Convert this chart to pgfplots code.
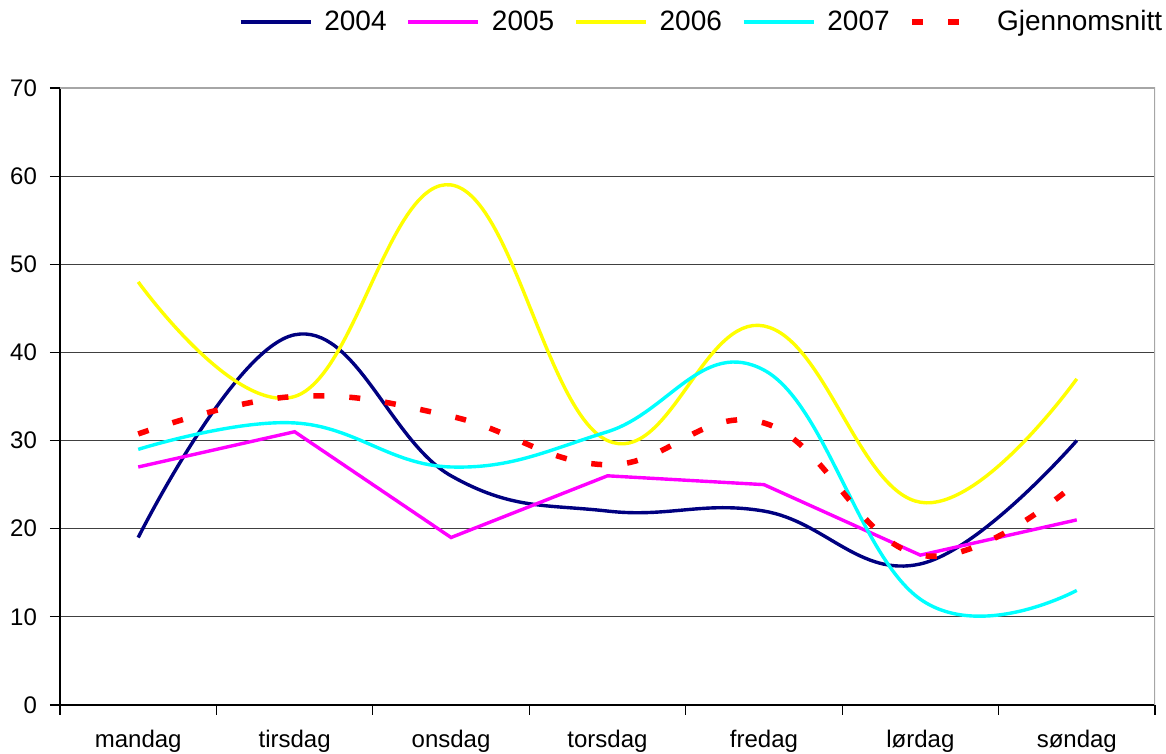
\documentclass[border=0pt]{standalone}
\usepackage{fontspec}
\setmainfont{Liberation Sans}
\usepackage{pgfplots}
\pgfplotsset{compat=1.18}
\definecolor{cA}{RGB}{0,0,128}
\definecolor{cB}{RGB}{255,0,255}
\definecolor{cC}{RGB}{255,255,0}
\definecolor{cD}{RGB}{0,255,255}
\definecolor{cE}{RGB}{255,0,0}
\begin{document}
\begin{tikzpicture}
\begin{axis}[
    name=ax, scale only axis,
    width=547.5pt, height=308.5pt,
    xmin=0.5, xmax=7.5, ymin=0, ymax=70,
    xtick={0.5,1.5,...,7.5}, x tick label as interval,
    xticklabels={mandag,tirsdag,onsdag,torsdag,fredag,lørdag,søndag},
    ytick={0,10,...,70},
    ymajorgrids, grid style={black!75, line width=0.5pt},
    axis x line*=bottom, axis y line*=left,
    axis line style={black, line width=0.6pt, -},
    tick align=outside, major tick length=5pt,
    tick style={black, line width=0.6pt},
    ticklabel style={font=\fontsize{12}{14}\selectfont},
    xticklabel style={yshift=-4pt},
    yticklabel style={xshift=-3pt},
    /pgf/number format/assume math mode=true,
    legend columns=5,
    legend style={at={(1.016,1.107)}, anchor=east, draw=none, fill=none,
        font=\fontsize{14}{16}\selectfont,
        /tikz/every even column/.style={column sep=8pt}},
    legend image code/.code={\draw[#1] (0pt,0pt) -- (35pt,0pt); \path (39pt,0pt);},
    every axis plot/.append style={line width=1.7pt},
]
\addplot[cA, smooth, tension=0.7] coordinates {(1,19) (2,42) (3,26) (4,22) (5,22) (6,16) (7,30)};
\addplot[cB, sharp plot] coordinates {(1,27) (2,31) (3,19) (4,26) (5,25) (6,17) (7,21)};
\addplot[cC, smooth, tension=0.7] coordinates {(1,48) (2,35) (3,59) (4,30) (5,43) (6,23) (7,37)};
\addplot[cD, smooth, tension=0.7] coordinates {(1,29) (2,32) (3,27) (4,31) (5,38) (6,12) (7,13)};
\addplot[cE, smooth, tension=0.7, line width=2.75pt, dash pattern=on 5.5pt off 12.5pt] coordinates {(1,30.75) (2,35) (3,32.75) (4,27.25) (5,32) (6,17) (7,25.25)};
\legend{2004,2005,2006,2007,Gjennomsnitt}
\draw[gray!70, line width=1pt] (rel axis cs:0,1) -- (rel axis cs:1,1) -- (rel axis cs:1,0);
\end{axis}
\pgfresetboundingbox
\path (ax.south west) ++(-30pt,-24.5pt) rectangle ([shift={(5.5pt,44pt)}]ax.north east);
\end{tikzpicture}
\end{document}
